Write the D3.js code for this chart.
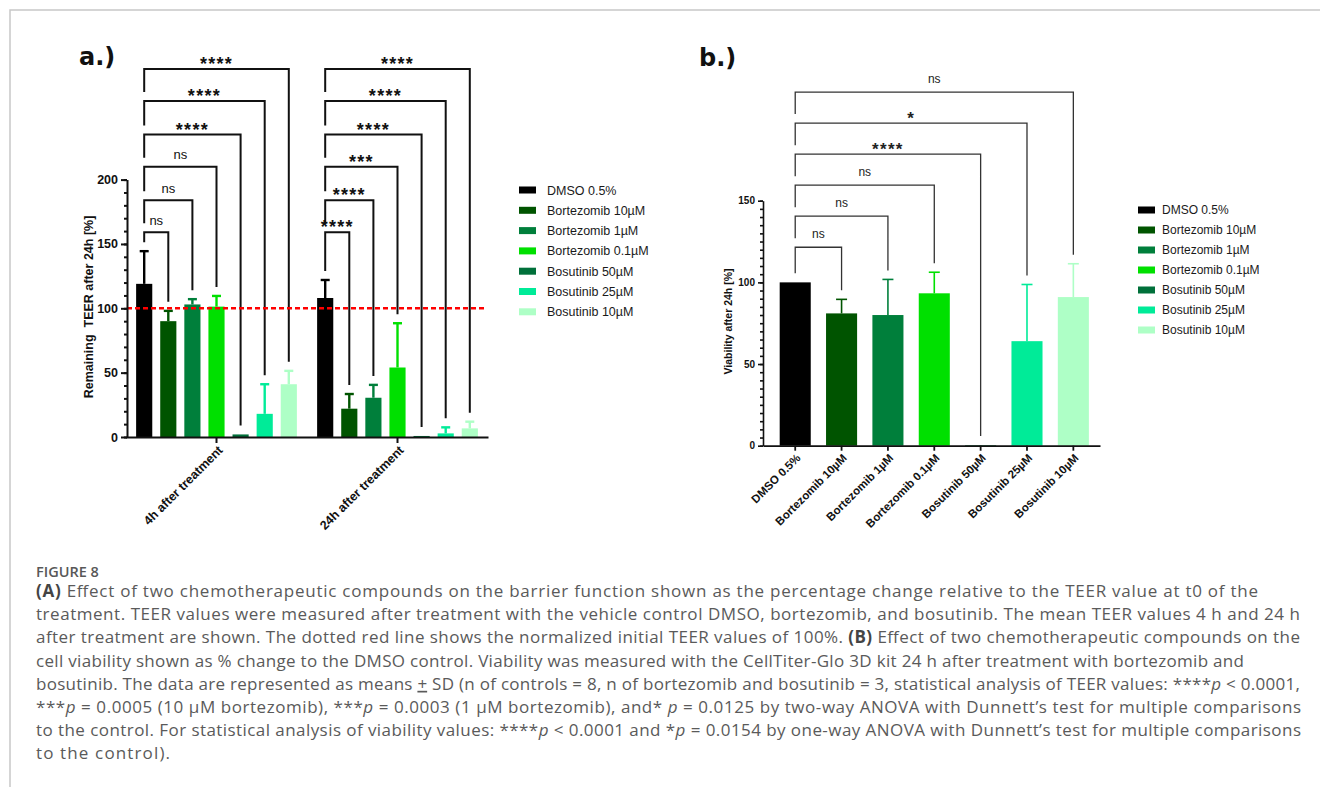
<!DOCTYPE html>
<html>
<head>
<meta charset="utf-8">
<script src="https://cdn.jsdelivr.net/npm/d3@7"></script>
<style>
  body { margin: 0; background: #fff; }
  svg { display: block; }
</style>
</head>
<body>
<svg id="fig" width="1320" height="787" font-family="Liberation Sans, Arial, sans-serif"></svg>
<script>
// ---- data ----
const treatments = ["DMSO 0.5%", "Bortezomib 10µM", "Bortezomib 1µM", "Bortezomib 0.1µM",
                    "Bosutinib 50µM", "Bosutinib 25µM", "Bosutinib 10µM"];
const colors = ["#000000", "#005400", "#007f3b", "#00e000", "#00703a", "#00eb98", "#aeffc6"];

const timepoints = ["4h after treatment", "24h after treatment"];
const teer4hMean = [119, 90, 103, 101.3, 2, 18, 41];
const teer4hSD   = [25.4, 8, 4.1, 8.3, 0, 23, 10.4];
const teer24hMean = [108, 22, 30.5, 54, 0.8, 2.8, 6.7];
const teer24hSD   = [14, 11.4, 10, 34.4, 0, 4.7, 5.2];
const teerLevels  = [159, 184, 210, 235, 261, 286];
const teer4hSig   = ["ns", "ns", "ns", "****", "****", "****"];
const teer24hSig  = ["****", "****", "***", "****", "****", "****"];

const viabMean   = [100, 81, 80, 93.3, 0.4, 64, 91];
const viabSD     = [0, 8.6, 21.8, 12.9, 0, 34.7, 20.4];
const viabLevels = [121.5, 140.5, 159.5, 178.5, 197.5, 216.5];
const viabSig    = ["ns", "ns", "ns", "****", "*", "ns"];

const teerTicks = [0, 50, 100, 150, 200];
const viabTicks = [0, 50, 100, 150];

let svg = d3.select("#fig");
let colorOf = d3.scaleOrdinal().domain(treatments).range(colors);

// page frame
svg.append("path").attr("d", "M10,787V10H1320")
    .attr("fill", "none").attr("stroke", "#c8c8c8").attr("stroke-width", 1.5);

function sigLabel(g, x, yl, lab, nsSize, starSize, nsOff, starOff, fill) {
    let isNs = lab === "ns";
    g.append("text")
        .attr("x", x)
        .attr("y", yl - (isNs ? nsOff : starOff))
        .attr("text-anchor", "middle")
        .attr("font-size", isNs ? nsSize : starSize)
        .attr("font-weight", isNs ? "normal" : "bold")
        .attr("letter-spacing", isNs ? null : 1.3)
        .attr("fill", fill)
        .text(lab);
}

// ---------------- panel a ----------------
let ya = d3.scaleLinear().domain([0, 200]).range([437, 179.6]);
let x0 = d3.scaleBand().domain(timepoints).range([126, 488]);
let x1 = d3.scaleBand().domain(treatments).range([0, x0.bandwidth()])
    .paddingInner(0.33).paddingOuter(0.42);

let gA = svg.append("g");
let teerMeans = [teer4hMean, teer24hMean];
let teerSDs = [teer4hSD, teer24hSD];
let teerSigs = [teer4hSig, teer24hSig];

timepoints.forEach((tp, ti) => {
    let rows = treatments.map((t, i) => ({t: t, m: teerMeans[ti][i], sd: teerSDs[ti][i]}));
    let g = gA.append("g").attr("transform", `translate(${x0(tp)},0)`);
    let bw = x1.bandwidth();
    let cx = d => x1(d.t) + bw / 2;

    g.selectAll("rect").data(rows).join("rect")
        .attr("x", d => x1(d.t)).attr("width", bw)
        .attr("y", d => ya(d.m)).attr("height", d => ya(0) - ya(d.m))
        .attr("fill", d => colorOf(d.t));

    let eb = g.selectAll("g.eb").data(rows.filter(d => d.sd > 0)).join("g").attr("class", "eb")
        .attr("stroke", d => colorOf(d.t)).attr("stroke-width", 2.4);
    eb.append("line").attr("x1", cx).attr("x2", cx)
        .attr("y1", d => ya(d.m)).attr("y2", d => ya(d.m + d.sd));
    eb.append("line").attr("x1", d => cx(d) - 4.5).attr("x2", d => cx(d) + 4.5)
        .attr("y1", d => ya(d.m + d.sd)).attr("y2", d => ya(d.m + d.sd));

    // significance brackets vs DMSO
    let ctrl = rows[0];
    rows.slice(1).forEach((d, k) => {
        let yl = ya(teerLevels[k]);
        let leftEnd = k === 0 ? ya(ctrl.m + ctrl.sd) - 9 : ya(teerLevels[k - 1]) - 9;
        let rightEnd = ya(d.m + d.sd) - 9;
        g.append("path")
            .attr("d", `M${cx(ctrl)},${leftEnd}V${yl}H${cx(d)}V${rightEnd}`)
            .attr("fill", "none").attr("stroke", "#111").attr("stroke-width", 2);
        sigLabel(g, (cx(ctrl) + cx(d)) / 2, yl, teerSigs[ti][k], 13, 18, 7.5, -1, "#111");
    });
});

// dotted reference line at 100 %
gA.append("line").attr("x1", 127).attr("x2", 487)
    .attr("y1", ya(100)).attr("y2", ya(100))
    .attr("stroke", "#ff0000").attr("stroke-width", 2.6).attr("stroke-dasharray", "5,3");

// axes a
let yAxA = gA.append("g").attr("transform", "translate(127,0)")
    .call(d3.axisLeft(ya).tickValues(teerTicks).tickSize(6).tickSizeOuter(0).tickPadding(3));
gA.append("g").attr("transform", "translate(127,0)")
    .call(d3.axisLeft(ya).tickValues(d3.range(0, 201, 10)).tickSize(3).tickSizeOuter(0).tickFormat(""))
    .call(g => g.select(".domain").remove());
yAxA.selectAll("text").attr("font-size", 12.5).attr("font-weight", "bold")
    .attr("font-family", "Liberation Sans, Arial, sans-serif").attr("fill", "#111");
gA.selectAll(".tick line, .domain").attr("stroke", "#111").attr("stroke-width", 2);

let xAxA = gA.append("g").attr("transform", `translate(0,${ya(0)})`)
    .call(d3.axisBottom(x0).tickSize(6).tickSizeOuter(0));
xAxA.selectAll(".tick line, .domain").attr("stroke", "#111").attr("stroke-width", 2);
xAxA.selectAll("text")
    .attr("font-size", 12.5).attr("font-weight", "bold")
    .attr("font-family", "Liberation Sans, Arial, sans-serif").attr("fill", "#111")
    .attr("text-anchor", "end").attr("dy", null)
    .attr("transform", "translate(7,14) rotate(-45)").attr("y", 0);

gA.append("text")
    .attr("transform", "translate(93,307) rotate(-90)")
    .attr("text-anchor", "middle").attr("font-size", 12.5).attr("font-weight", "bold").attr("fill", "#111")
    .text("Remaining  TEER after 24h [%]").style("white-space", "pre");

svg.append("text").attr("x", 79).attr("y", 65)
    .attr("font-family", "DejaVu Sans, sans-serif").attr("font-weight", "bold")
    .attr("font-size", 24).attr("fill", "#111").text("a.)");

// legend a
let legA = svg.append("g").attr("transform", "translate(519,190)");
treatments.forEach((t, i) => {
    legA.append("rect").attr("x", 0).attr("y", i * 20.3 - 3.5).attr("width", 17).attr("height", 7)
        .attr("fill", colorOf(t));
    legA.append("text").attr("x", 28).attr("y", i * 20.3 + 4.5)
        .attr("font-size", 12.5).attr("fill", "#1a1a1a").text(t);
});

// ---------------- panel b ----------------
let yb = d3.scaleLinear().domain([0, 150]).range([445.7, 200.7]);
let xb = d3.scaleBand().domain(treatments).range([763, 1100])
    .paddingInner(0.33).paddingOuter(0.3).align(0.6);
let gB = svg.append("g");
let rowsB = treatments.map((t, i) => ({t: t, m: viabMean[i], sd: viabSD[i]}));
let bwB = xb.bandwidth();
let cxB = d => xb(d.t) + bwB / 2;

gB.selectAll("rect").data(rowsB).join("rect")
    .attr("x", d => xb(d.t)).attr("width", bwB)
    .attr("y", d => yb(d.m)).attr("height", d => yb(0) - yb(d.m))
    .attr("fill", d => colorOf(d.t));

let ebB = gB.selectAll("g.eb").data(rowsB.filter(d => d.sd > 0)).join("g").attr("class", "eb")
    .attr("stroke", d => colorOf(d.t)).attr("stroke-width", 1.6);
ebB.append("line").attr("x1", cxB).attr("x2", cxB)
    .attr("y1", d => yb(d.m)).attr("y2", d => yb(d.m + d.sd));
ebB.append("line").attr("x1", d => cxB(d) - 5.5).attr("x2", d => cxB(d) + 5.5)
    .attr("y1", d => yb(d.m + d.sd)).attr("y2", d => yb(d.m + d.sd));

let ctrlB = rowsB[0];
rowsB.slice(1).forEach((d, k) => {
    let yl = yb(viabLevels[k]);
    let leftEnd = k === 0 ? yb(ctrlB.m + ctrlB.sd) - 9 : yb(viabLevels[k - 1]) - 9;
    let rightEnd = yb(d.m + d.sd) - 9;
    gB.append("path")
        .attr("d", `M${cxB(ctrlB)},${leftEnd}V${yl}H${cxB(d)}V${rightEnd}`)
        .attr("fill", "none").attr("stroke", "#333").attr("stroke-width", 1.3);
    sigLabel(gB, (cxB(ctrlB) + cxB(d)) / 2, yl, viabSig[k], 12, 17, 9, -0.5, "#222");
});

let yAxB = gB.append("g").attr("transform", "translate(763,0)")
    .call(d3.axisLeft(yb).tickValues(viabTicks).tickSize(5).tickSizeOuter(0).tickPadding(3));
gB.append("g").attr("transform", "translate(763,0)")
    .call(d3.axisLeft(yb).tickValues(d3.range(0, 151, 5)).tickSize(3).tickSizeOuter(0).tickFormat(""))
    .call(g => g.select(".domain").remove());
yAxB.selectAll("text").attr("font-size", 10).attr("font-weight", "bold")
    .attr("font-family", "Liberation Sans, Arial, sans-serif").attr("fill", "#111");
gB.selectAll(".tick line, .domain").attr("stroke", "#111").attr("stroke-width", 1.6);

let xAxB = gB.append("g").attr("transform", `translate(0,${yb(0)})`)
    .call(d3.axisBottom(xb).tickSize(5).tickSizeOuter(0));
xAxB.selectAll(".tick line, .domain").attr("stroke", "#111").attr("stroke-width", 1.8);
xAxB.selectAll("text")
    .attr("font-size", 11.5).attr("font-weight", "bold")
    .attr("font-family", "Liberation Sans, Arial, sans-serif").attr("fill", "#111")
    .attr("text-anchor", "end").attr("dy", null)
    .attr("transform", "translate(6,13) rotate(-45)").attr("y", 0);

gB.append("text")
    .attr("transform", "translate(732,321.5) rotate(-90)")
    .attr("text-anchor", "middle").attr("font-size", 10.5).attr("font-weight", "bold").attr("fill", "#111")
    .text("Viability after 24h [%]");

svg.append("text").attr("x", 699).attr("y", 66)
    .attr("font-family", "DejaVu Sans, sans-serif").attr("font-weight", "bold")
    .attr("font-size", 24).attr("fill", "#111").text("b.)");

let legB = svg.append("g").attr("transform", "translate(1138,210)");
treatments.forEach((t, i) => {
    legB.append("rect").attr("x", 0).attr("y", i * 20 - 3.5).attr("width", 17).attr("height", 7)
        .attr("fill", colorOf(t));
    legB.append("text").attr("x", 24).attr("y", i * 20 + 4.3)
        .attr("font-size", 12).attr("fill", "#1a1a1a").text(t);
});

// ---------------- caption ----------------
const captionLines = [
    [["(A)", "b"], [" Effect of two chemotherapeutic compounds on the barrier function shown as the percentage change relative to the TEER value at t0 of the"]],
    [["treatment. TEER values were measured after treatment with the vehicle control DMSO, bortezomib, and bosutinib. The mean TEER values 4 h and 24 h"]],
    [["after treatment are shown. The dotted red line shows the normalized initial TEER values of 100%. "], ["(B)", "b"], [" Effect of two chemotherapeutic compounds on the"]],
    [["cell viability shown as % change to the DMSO control. Viability was measured with the CellTiter-Glo 3D kit 24 h after treatment with bortezomib and"]],
    [["bosutinib. The data are represented as means "], ["+", "u"], [" SD (n of controls = 8, n of bortezomib and bosutinib = 3, statistical analysis of TEER values: ****"], ["p", "i"], [" < 0.0001,"]],
    [["***"], ["p", "i"], [" = 0.0005 (10 µM bortezomib), ***"], ["p", "i"], [" = 0.0003 (1 µM bortezomib), and* "], ["p", "i"], [" = 0.0125 by two-way ANOVA with Dunnett’s test for multiple comparisons"]],
    [["to the control. For statistical analysis of viability values: ****"], ["p", "i"], [" < 0.0001 and *"], ["p", "i"], [" = 0.0154 by one-way ANOVA with Dunnett’s test for multiple comparisons"]],
    [["to the control)."]]
];
const captionWidths = [1222, 1264, 1264, 1208, 1264, 1265, 1265, 134];

let cap = svg.append("g").attr("font-family", "Open Sans, sans-serif");
cap.append("text").attr("x", 36).attr("y", 577).attr("font-size", 14.5).attr("font-weight", 600)
    .attr("fill", "#585858").text("FIGURE 8");
captionLines.forEach((segs, li) => {
    let t = cap.append("text").attr("x", 36).attr("y", 597 + li * 23.2)
        .attr("font-size", 17).attr("fill", "#5a5a5a")
        .style("white-space", "pre");
    segs.forEach(s => {
        let sp = t.append("tspan").text(s[0]);
        if (s[1] === "b") sp.attr("font-weight", "bold").attr("fill", "#444");
        if (s[1] === "i") sp.attr("font-style", "italic");
        if (s[1] === "u") sp.attr("text-decoration", "underline");
    });
    t.attr("textLength", captionWidths[li]).attr("lengthAdjust", "spacing");
});
</script>
</body>
</html>
